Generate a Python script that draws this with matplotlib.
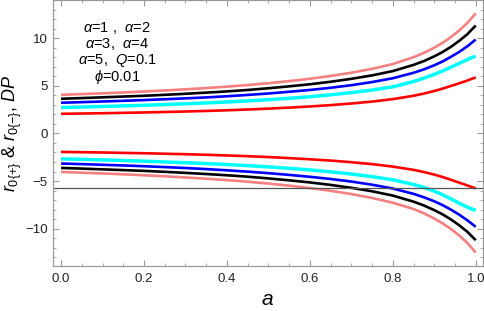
import numpy as np
import matplotlib
matplotlib.use("Agg")
import matplotlib.pyplot as plt
from matplotlib.ticker import MultipleLocator

plt.rcParams['font.family'] = ['Liberation Sans', 'DejaVu Sans']
plt.rcParams['mathtext.fontset'] = 'custom'
plt.rcParams['mathtext.rm'] = 'Liberation Sans'
plt.rcParams['mathtext.it'] = 'Liberation Sans:italic'

# spin parameter a
a = [0, 0.05, 0.1, 0.15, 0.2, 0.25, 0.3, 0.35, 0.4, 0.45, 0.5, 0.55, 0.6, 0.65,
     0.7, 0.75, 0.8, 0.85, 0.875, 0.9, 0.92, 0.94, 0.96, 0.98, 0.99, 1.0]

# r0(+) branch (upper curves)
r_pink_up = [4.05, 4.13, 4.21, 4.30, 4.40, 4.51, 4.63, 4.76, 4.91, 5.08, 5.27, 5.49, 5.74,
             6.03, 6.37, 6.78, 7.28, 8.0, 8.45, 9.0, 9.5, 10.1, 10.8, 11.6, 12.1, 12.6]
r_black_up = [3.64, 3.71, 3.79, 3.87, 3.95, 4.05, 4.16, 4.28, 4.41, 4.56, 4.74, 4.94, 5.16,
              5.42, 5.73, 6.09, 6.54, 7.19, 7.59, 8.09, 8.54, 9.08, 9.71, 10.42, 10.88, 11.32]
r_blue_up = [3.22, 3.28, 3.35, 3.42, 3.50, 3.59, 3.68, 3.78, 3.90, 4.04, 4.19, 4.37, 4.56,
             4.79, 5.06, 5.39, 5.79, 6.36, 6.72, 7.15, 7.55, 8.03, 8.55, 9.15, 9.5, 9.85]
r_cyan_up = [2.72, 2.77, 2.83, 2.89, 2.95, 3.03, 3.11, 3.20, 3.30, 3.41, 3.54, 3.69, 3.85,
             4.05, 4.28, 4.55, 4.89, 5.45, 5.8, 6.2, 6.55, 6.95, 7.35, 7.75, 7.95, 8.1]
r_red_up = [2.06, 2.09, 2.12, 2.16, 2.20, 2.25, 2.30, 2.36, 2.43, 2.51, 2.60, 2.71, 2.83,
            2.97, 3.14, 3.34, 3.60, 3.95, 4.18, 4.45, 4.70, 4.98, 5.26, 5.55, 5.72, 5.88]

# r0(-) branch (lower curves)
r_pink_dn = [-4.04, -4.12, -4.20, -4.29, -4.39, -4.50, -4.62, -4.75, -4.90, -5.07, -5.26, -5.48, -5.73,
             -6.02, -6.36, -6.77, -7.27, -7.93, -8.38, -8.93, -9.43, -10.02, -10.7, -11.5, -12.0, -12.5]
r_black_dn = [-3.62, -3.69, -3.77, -3.85, -3.93, -4.03, -4.14, -4.26, -4.39, -4.54, -4.72, -4.92, -5.14,
              -5.40, -5.71, -6.07, -6.52, -7.16, -7.56, -8.05, -8.49, -9.02, -9.63, -10.33, -10.77, -11.2]
r_blue_dn = [-3.16, -3.22, -3.29, -3.36, -3.44, -3.53, -3.63, -3.74, -3.87, -4.01, -4.17, -4.35, -4.55,
             -4.78, -5.05, -5.38, -5.78, -6.34, -6.70, -7.12, -7.52, -7.99, -8.52, -9.12, -9.46, -9.8]
r_cyan_dn = [-2.67, -2.72, -2.78, -2.84, -2.91, -2.99, -3.07, -3.16, -3.26, -3.38, -3.51, -3.66, -3.83,
             -4.03, -4.26, -4.53, -4.87, -5.35, -5.67, -6.05, -6.43, -6.86, -7.32, -7.74, -7.93, -8.07]
r_red_dn = [-1.94, -1.97, -2.00, -2.04, -2.08, -2.13, -2.18, -2.24, -2.31, -2.39, -2.48, -2.59, -2.71,
            -2.85, -3.02, -3.22, -3.48, -3.82, -4.05, -4.32, -4.57, -4.86, -5.16, -5.46, -5.62, -5.77]

dp_level = -5.77

fig = plt.figure(figsize=(4.84, 3.11), dpi=100)
ax = fig.add_axes([0.109, 0.145, 0.889, 0.855])

curves = [
    (r_pink_up, r_pink_dn, '#F58080', 1.9),
    (r_black_up, r_black_dn, 'black', 1.9),
    (r_blue_up, r_blue_dn, '#0000FF', 1.9),
    (r_cyan_up, r_cyan_dn, '#00FFFF', 2.5),
    (r_red_up, r_red_dn, '#FF0000', 1.9),
]
for up, dn, col, lw in curves:
    ax.plot(a, up, color=col, lw=lw, solid_capstyle='butt', solid_joinstyle='round')
    ax.plot(a, dn, color=col, lw=lw, solid_capstyle='butt', solid_joinstyle='round')

ax.axhline(dp_level, color='#555555', lw=0.9)

ax.set_xlim(-0.02, 1.0176)
ax.set_ylim(-13.9, 14.0)

ax.xaxis.set_major_locator(MultipleLocator(0.2))
ax.xaxis.set_minor_locator(MultipleLocator(0.05))
ax.yaxis.set_major_locator(MultipleLocator(5))
ax.yaxis.set_minor_locator(MultipleLocator(1))
ax.xaxis.set_major_formatter(plt.FuncFormatter(lambda v, p: '%.1f' % v))

for s in ax.spines.values():
    s.set_color('#999999')
    s.set_linewidth(0.9)
ax.tick_params(which='both', direction='in', top=True, right=True, color='#999999',
               labelsize=9.5, labelcolor='#222222')
ax.tick_params(which='major', length=4, width=0.8)
ax.tick_params(which='minor', length=2, width=0.6)
ax.tick_params(axis='x', pad=5)

ax.set_xlabel('$a$', fontsize=15, labelpad=4)
ax.set_ylabel(r'$r_{0\{+\}}$ & $r_{0\{-\}}$, $DP$', fontsize=13, labelpad=1)

# parameter box, one multi-line text so the lines share a single layout
legend_lines = [r'$\alpha$=1 ,  $\alpha$=2', r'$\alpha$=3,  $\alpha$=4',
                r'$\alpha$=5,  $Q$=0.1', r'$\phi$=0.01']
ax.text(0.149, 0.80, '\n'.join(legend_lines), transform=ax.transAxes, ha='center',
        va='center', multialignment='center', fontsize=10.5, linespacing=0.98)

fig.savefig('out.png', dpi=100)
